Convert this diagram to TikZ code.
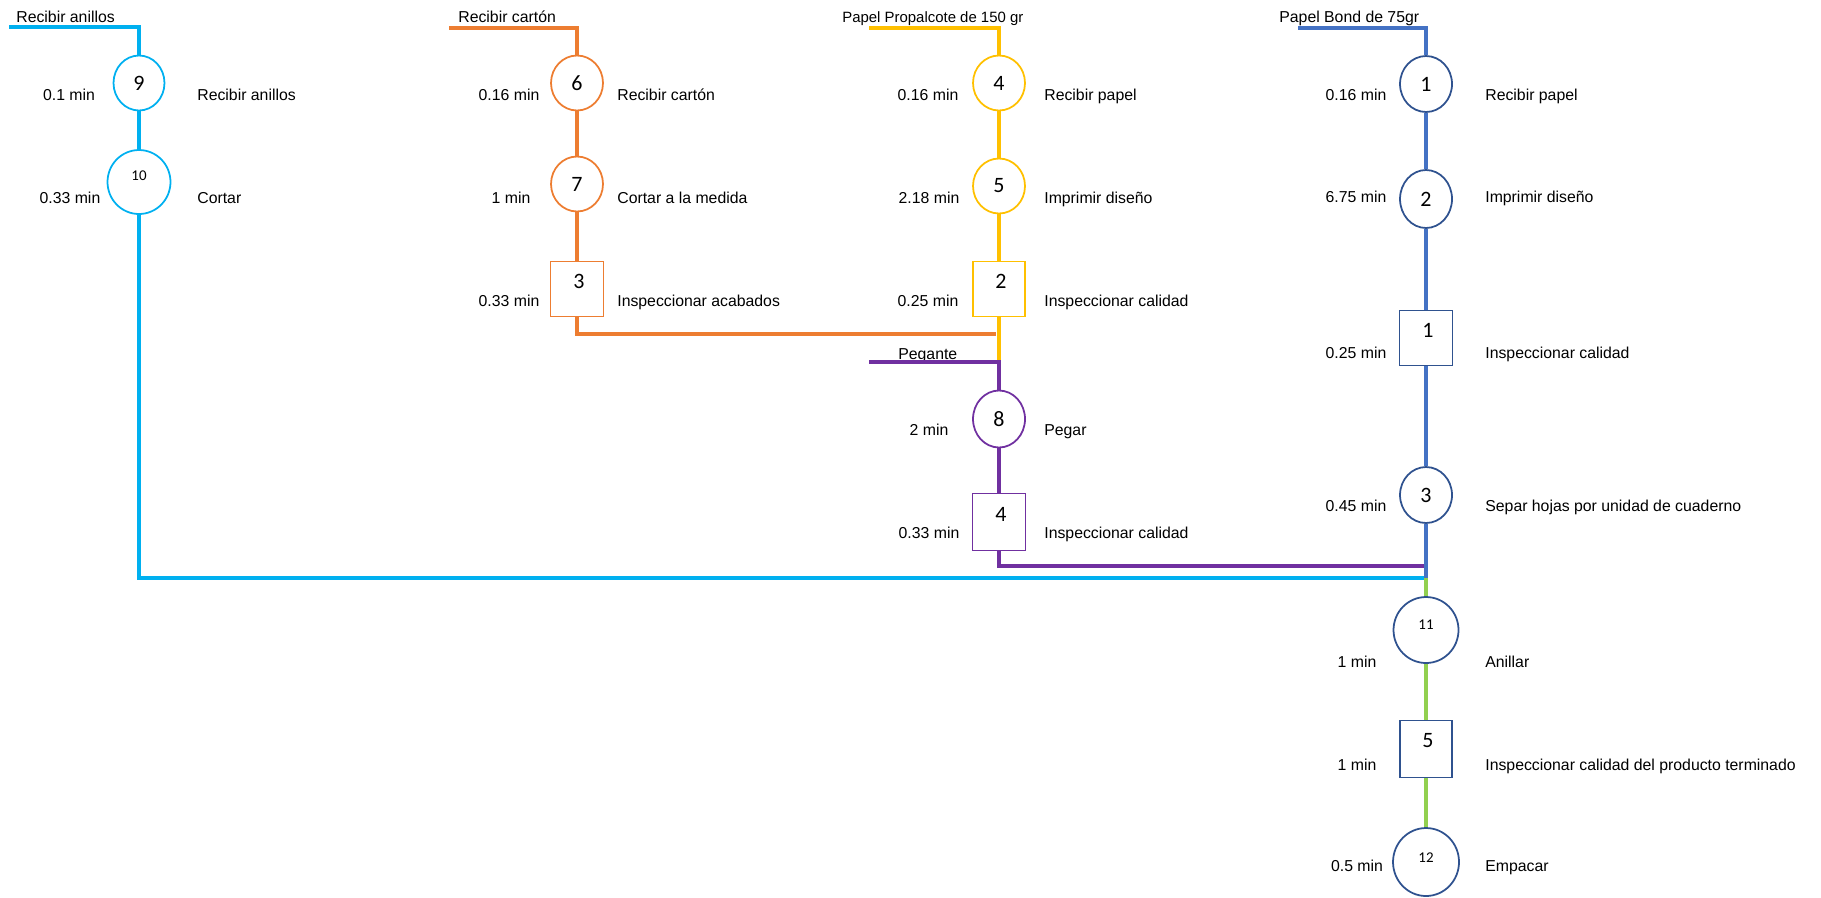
\documentclass[tikz,border=0pt]{standalone}
\usepackage{fontspec}
\setmainfont{Liberation Sans}
\newfontfamily\numfont{Carlito}
\usetikzlibrary{shapes.geometric}
\definecolor{cyanC}{HTML}{00B0F0}
\definecolor{orangeC}{HTML}{ED7D31}
\definecolor{yellowC}{HTML}{FFC000}
\definecolor{purpleC}{HTML}{7030A0}
\definecolor{blueC}{HTML}{4472C4}
\definecolor{navyC}{HTML}{2F528F}
\definecolor{greenC}{HTML}{92D050}
\begin{document}
\begin{tikzpicture}
[x=0.02cm,y=-0.02cm,
flow/.style={line width=1.9pt,draw=#1},
op/.style={ellipse,draw=#1,line width=1pt,inner sep=0pt,minimum width=1.04cm,minimum height=1.1cm,font=\numfont\fontsize{12.5}{12.5}\selectfont},
bigop/.style={op=#1,minimum width=1.3cm,minimum height=1.32cm},
insp/.style={rectangle,draw=#1,line width=1pt,inner sep=0pt,minimum width=1.06cm,minimum height=1.1cm},
num/.style={font=\numfont\fontsize{12.5}{12.5}\selectfont,inner sep=0pt,yshift=0.16cm,xshift=0.04cm},
smallnum/.style={font=\numfont\fontsize{8.5}{8.5}\selectfont,inner sep=0pt,yshift=0.12cm},
time/.style={inner sep=0pt,text height=6.5pt,text depth=0pt,font=\fontsize{9}{11}\selectfont},
task/.style={anchor=west,inner sep=0pt,text height=6.5pt,text depth=0pt,font=\fontsize{9}{11}\selectfont},
]
\useasboundingbox (0,0) rectangle (1821,897);

% materiales de entrada
\node (t1) at (16,17)[task]{Recibir anillos};
\node (t2) at (458,17)[task]{Recibir cartón};
\node (t3) at (842,17)[task,font=\fontsize{8.5}{11}\selectfont]{Papel Propalcote de 150 gr};
\node (t4) at (1279,17)[task]{Papel Bond de 75gr};
\node (t5) at (898,354)[task]{Pegante};
\coordinate (a0) at (9,27);
\coordinate (o0) at (449,28);
\coordinate (y0) at (869,28);
\coordinate (b0) at (1298,28);
\coordinate (p0) at (869,362);

% anillos
\node (c9) at (139,83)[op=cyanC,minimum width=1.02cm]{9};
\node (c10) at (139,182)[bigop=cyanC,minimum width=1.26cm,minimum height=1.28cm,label={[smallnum]center:10}]{};
\node at (69,95)[time]{0.1 min};
\node at (70,198)[time]{0.33 min};
\node at (197,95)[task]{Recibir anillos};
\node at (197,198)[task]{Cortar};

% carton
\node (c6) at (577,83)[op=orangeC]{6};
\node (c7) at (577,184)[op=orangeC]{7};
\node (s3) at (577,289)[insp=orangeC,label={[num]center:3}]{};
\node at (509,95)[time]{0.16 min};
\node at (511,198)[time]{1 min};
\node at (509,301)[time]{0.33 min};
\node at (617,95)[task]{Recibir cartón};
\node at (617,198)[task]{Cortar a la medida};
\node at (617,301)[task]{Inspeccionar acabados};

% propalcote
\node (c4) at (999,83)[op=yellowC]{4};
\node (c5) at (999,186)[op=yellowC]{5};
\node (s2) at (999,289)[insp=yellowC,minimum width=1.04cm,label={[num]center:2}]{};
\node at (928,95)[time]{0.16 min};
\node at (929,198)[time]{2.18 min};
\node at (928,301)[time]{0.25 min};
\node at (1044,95)[task]{Recibir papel};
\node at (1044,198)[task]{Imprimir diseño};
\node at (1044,301)[task]{Inspeccionar calidad};

% pegante
\node (c8) at (999,419)[op=purpleC,minimum height=1.14cm]{8};
\node (s4) at (999,522)[insp=purpleC,minimum height=1.14cm,label={[num]center:4}]{};
\node at (929,430)[time]{2 min};
\node at (929,533)[time]{0.33 min};
\node at (1044,430)[task]{Pegar};
\node at (1044,533)[task]{Inspeccionar calidad};

% bond
\node (c1) at (1426,84)[op=navyC,minimum height=1.12cm]{1};
\node (c2) at (1426,199)[op=navyC,minimum height=1.16cm]{2};
\node (s1) at (1426,338)[insp=navyC,label={[num]center:1}]{};
\node (c3) at (1426,495)[op=navyC,minimum height=1.12cm]{3};
\node at (1356,95)[time]{0.16 min};
\node at (1356,197)[time]{6.75 min};
\node at (1356,353)[time]{0.25 min};
\node at (1356,506)[time]{0.45 min};
\node at (1485,95)[task]{Recibir papel};
\node at (1485,197)[task]{Imprimir diseño};
\node at (1485,353)[task]{Inspeccionar calidad};
\node at (1485,506)[task]{Separ hojas por unidad de cuaderno};

% ensamble
\coordinate (j1) at (1426,578);
\coordinate (p1) at (1426,566);
\coordinate (o1) at (996,334);
\coordinate (y1) at (999,362);
\node (c11) at (1426,630)[bigop=navyC,label={[smallnum,yshift=-0.02cm]center:11}]{};
\node (s5) at (1426,749)[insp=navyC,minimum width=1.04cm,minimum height=1.14cm,label={[num]center:5}]{};
\node (c12) at (1426,862)[bigop=navyC,minimum width=1.32cm,minimum height=1.36cm,label={[smallnum,yshift=-0.04cm]center:12}]{};
\node at (1357,662)[time]{1 min};
\node at (1357,765)[time]{1 min};
\node at (1357,866)[time]{0.5 min};
\node at (1485,662)[task]{Anillar};
\node at (1485,765)[task]{Inspeccionar calidad del producto terminado};
\node at (1485,866)[task]{Empacar};

\draw[flow=cyanC] (a0) -| (c9);
\draw[flow=cyanC] (c9) -- (c10);
\draw[flow=cyanC] (c10) |- (j1);

\draw[flow=orangeC] (o0) -| (c6);
\draw[flow=orangeC] (c6) -- (c7);
\draw[flow=orangeC] (c7) -- (s3);
\draw[flow=orangeC] (s3) |- (o1);

\draw[flow=yellowC] (y0) -| (c4);
\draw[flow=yellowC] (c4) -- (c5);
\draw[flow=yellowC] (c5) -- (s2);
\draw[flow=yellowC] (s2) -- (y1);

\draw[flow=purpleC] (p0) -| (c8);
\draw[flow=purpleC] (c8) -- (s4);
\draw[flow=purpleC] (s4) |- (p1);

\draw[flow=blueC] (b0) -| (c1);
\draw[flow=blueC] (c1) -- (c2);
\draw[flow=blueC] (c2) -- (s1);
\draw[flow=blueC] (s1) -- (c3);
\draw[flow=blueC] (c3) -- (j1);

\draw[flow=greenC] (j1) -- (c11);
\draw[flow=greenC] (c11) -- (s5);
\draw[flow=greenC] (s5) -- (c12);

\end{tikzpicture}
\end{document}
